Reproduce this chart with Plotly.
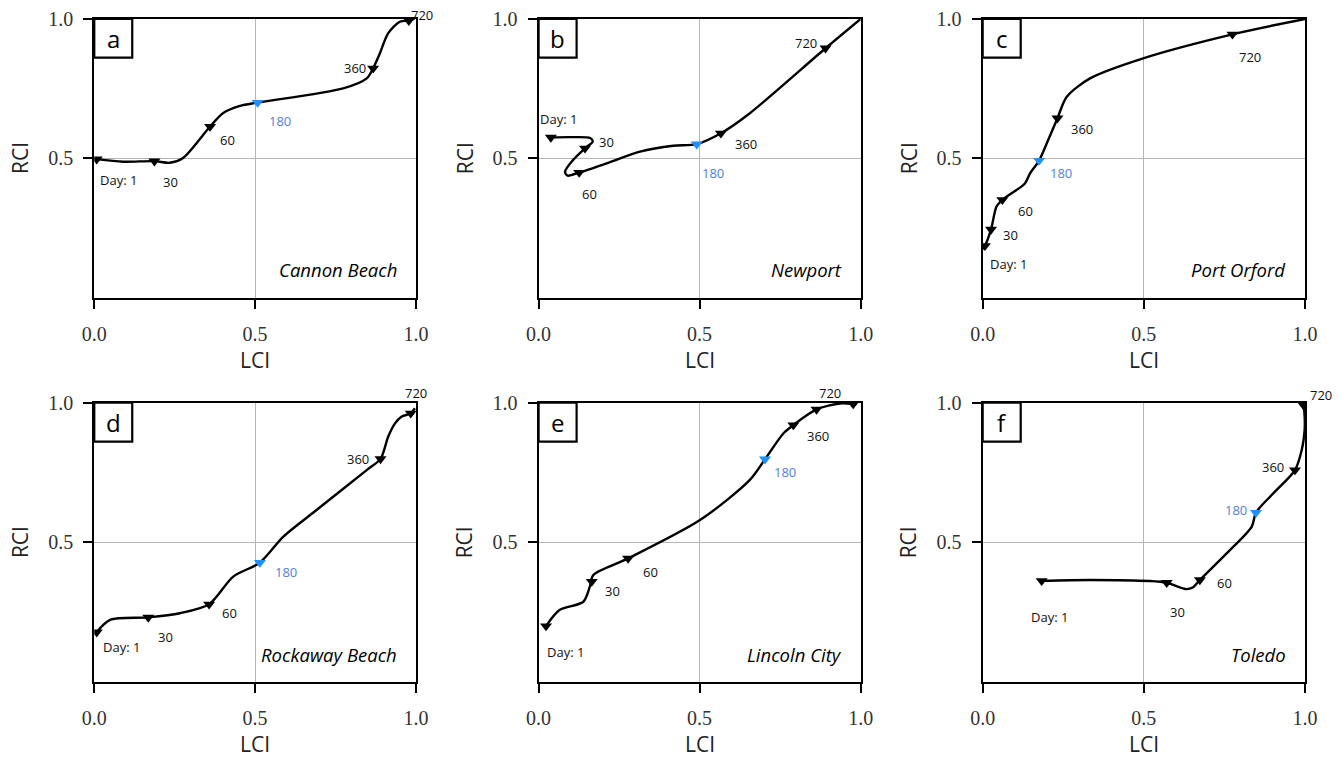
import plotly.graph_objects as go

# ---------------- data ----------------
panel_letters = ["a", "b", "c", "d", "e", "f"]
site_names = ["Cannon Beach", "Newport", "Port Orford", "Rockaway Beach", "Lincoln City", "Toledo"]

# Trajectories (LCI, RCI)
a_path_lci = [0.0075, 0.09, 0.187, 0.235, 0.275, 0.36, 0.40, 0.453, 0.508, 0.774, 0.847, 0.867, 0.888, 0.914, 0.95, 0.978, 0.995]
a_path_rci = [0.497, 0.488, 0.49, 0.484, 0.50, 0.614, 0.662, 0.688, 0.70, 0.751, 0.787, 0.823, 0.877, 0.949, 0.99, 0.994, 1.0]
a_mark_lci = [0.0075, 0.187, 0.36, 0.508, 0.867, 0.978]
a_mark_rci = [0.497, 0.49, 0.614, 0.70, 0.823, 0.994]

b_path_lci = [0.038, 0.10, 0.160, 0.168, 0.144, 0.107, 0.082, 0.090, 0.126, 0.211, 0.315, 0.418, 0.491, 0.566, 0.656, 0.891, 1.0]
b_path_rci = [0.575, 0.576, 0.573, 0.560, 0.536, 0.494, 0.452, 0.438, 0.449, 0.482, 0.524, 0.545, 0.551, 0.590, 0.662, 0.895, 1.0]
b_mark_lci = [0.038, 0.144, 0.126, 0.491, 0.566, 0.891]
b_mark_rci = [0.575, 0.536, 0.449, 0.551, 0.590, 0.895]

c_path_lci = [0.0, 0.007, 0.026, 0.043, 0.061, 0.131, 0.147, 0.175, 0.199, 0.232, 0.261, 0.333, 0.498, 0.775, 1.0]
c_path_rci = [0.175, 0.186, 0.245, 0.327, 0.351, 0.41, 0.446, 0.492, 0.554, 0.644, 0.721, 0.787, 0.859, 0.945, 1.0]
c_mark_lci = [0.007, 0.026, 0.061, 0.175, 0.232, 0.775]
c_mark_rci = [0.186, 0.245, 0.351, 0.492, 0.644, 0.945]

d_path_lci = [0.0075, 0.049, 0.168, 0.266, 0.357, 0.432, 0.515, 0.588, 0.691, 0.847, 0.89, 0.914, 0.935, 0.955, 0.984, 0.997]
d_path_rci = [0.179, 0.223, 0.232, 0.247, 0.279, 0.378, 0.428, 0.521, 0.616, 0.759, 0.799, 0.879, 0.926, 0.95, 0.962, 0.98]
d_mark_lci = [0.0075, 0.168, 0.357, 0.515, 0.89, 0.984]
d_mark_rci = [0.179, 0.232, 0.279, 0.428, 0.799, 0.962]

e_path_lci = [0.023, 0.066, 0.139, 0.159, 0.17, 0.278, 0.501, 0.656, 0.703, 0.76, 0.791, 0.863, 0.936, 0.977]
e_path_rci = [0.201, 0.259, 0.288, 0.342, 0.384, 0.443, 0.58, 0.724, 0.798, 0.89, 0.92, 0.976, 0.997, 0.995]
e_mark_lci = [0.023, 0.165, 0.278, 0.703, 0.791, 0.863, 0.977]
e_mark_rci = [0.201, 0.36, 0.443, 0.798, 0.92, 0.976, 0.995]

f_path_lci = [0.183, 0.333, 0.519, 0.571, 0.633, 0.653, 0.674, 0.757, 0.835, 0.848, 0.902, 0.969, 0.99, 0.999, 0.998, 0.995]
f_path_rci = [0.363, 0.366, 0.362, 0.356, 0.333, 0.34, 0.366, 0.461, 0.557, 0.607, 0.676, 0.759, 0.831, 0.902, 0.968, 0.992]
f_mark_lci = [0.183, 0.571, 0.674, 0.848, 0.969, 0.995]
f_mark_rci = [0.363, 0.356, 0.366, 0.607, 0.759, 0.992]

day_labels = ["Day: 1", "30", "60", "180", "360", "720"]
e_day_labels = ["Day: 1", "30", "60", "180", "360", "720", ""]

x_tick_vals = [0.0, 0.5, 1.0]
x_tick_text = ["0.0", "0.5", "1.0"]
y_tick_vals = [0.5, 1.0]
y_tick_text = ["0.5", "1.0"]

paths = [(a_path_lci, a_path_rci), (b_path_lci, b_path_rci), (c_path_lci, c_path_rci),
         (d_path_lci, d_path_rci), (e_path_lci, e_path_rci), (f_path_lci, f_path_rci)]
marks = [(a_mark_lci, a_mark_rci, day_labels), (b_mark_lci, b_mark_rci, day_labels),
         (c_mark_lci, c_mark_rci, day_labels), (d_mark_lci, d_mark_rci, day_labels),
         (e_mark_lci, e_mark_rci, e_day_labels), (f_mark_lci, f_mark_rci, day_labels)]

# ---------------- style / layout ----------------
label_offsets = [  # pixel offsets (dx right, dy down) of each day label from its marker
    [(21.6, 20.7), (15.7, 21.3), (17.7, 13.3), (22.3, 18), (-18.3, 0), (12.7, -6)],
    [(8, -18.3), (21.7, -6.7), (10.7, 21.3), (16.7, 28.7), (24.7, 11), (-19.7, -5.7)],
    [(24, 18.3), (19.7, 5.7), (22.7, 11), (22, 12), (24.4, 11), (17.7, 23)],
    [(25, 14.4), (16.7, 19.4), (20.7, 9), (25.7, 9.6), (-23, 0), (5.7, -20.3)],
    [(19, 25.7), (20.6, 9.3), (22.7, 14), (20, 12.4), (25, 11), (13, -16), (0, 0)],
    [(8.3, 36.6), (10.6, 29.6), (25, 3.3), (-20, -2.7), (-21.7, -3.3), (17.7, -10)],
]
# page has an 8px body margin -> domains shifted to compensate
col_domains = [[0.0642, 0.3035], [0.3948, 0.6344], [0.7252, 0.9650]]
row_domains = [[0.6173, 0.9855], [0.1093, 0.4786]]

BLUE_MARK = "#1e90ff"
BLUE_TEXT = "#4f7fdc"
SANS = "Open Sans, Noto Sans, sans-serif"
SERIF = "Liberation Serif, DejaVu Serif, serif"

fig = go.Figure()
annotations = []
shapes = []
layout_axes = {}

for i in range(6):
    r, c = divmod(i, 3)
    sfx = "" if i == 0 else str(i + 1)
    xa, ya = "x" + sfx, "y" + sfx
    px_, py_ = paths[i]
    mx, my, labs = marks[i]

    fig.add_trace(go.Scatter(
        x=px_, y=py_, xaxis=xa, yaxis=ya, mode="lines",
        line=dict(color="black", width=2.4, shape="spline", smoothing=0.8),
        showlegend=False, hoverinfo="skip"))
    colors = [BLUE_MARK if l == "180" else "black" for l in labs]
    fig.add_trace(go.Scatter(
        x=mx, y=my, xaxis=xa, yaxis=ya, mode="markers",
        marker=dict(symbol="triangle-down", size=10.5, color=colors, line=dict(width=0)),
        showlegend=False, hoverinfo="skip"))

    for (lx, ly, lab, (dx, dy)) in zip(mx, my, labs, label_offsets[i]):
        if not lab:
            continue
        annotations.append(dict(
            x=lx, y=ly, xref=xa, yref=ya, text=lab, showarrow=False,
            xshift=dx, yshift=-dy, xanchor="center", yanchor="middle", borderpad=0,
            font=dict(family=SANS, size=13, color=BLUE_TEXT if lab == "180" else "#111111")))

    # site name
    annotations.append(dict(
        x=0.948, y=0.1, xref=xa + " domain", yref=ya + " domain", text="<i>" + site_names[i] + "</i>",
        showarrow=False, xanchor="right", yanchor="middle",
        font=dict(family=SANS, size=18.5, color="black")))
    # axis titles
    annotations.append(dict(
        x=0.5, y=-0.222, xref=xa + " domain", yref=ya + " domain", text="LCI",
        showarrow=False, xanchor="center", yanchor="middle",
        font=dict(family=SANS, size=21, color="#222222")))
    annotations.append(dict(
        x=-0.229, y=0.5, xref=xa + " domain", yref=ya + " domain", text="RCI", textangle=-90,
        showarrow=False, xanchor="center", yanchor="middle", borderpad=0,
        font=dict(family=SANS, size=21, color="#222222")))
    # panel letter box
    shapes.append(dict(
        type="rect", xref=xa + " domain", yref=ya + " domain",
        x0=0.0, x1=0.118, y0=0.861, y1=1.0,
        line=dict(color="black", width=2.2), fillcolor="white", layer="above"))
    annotations.append(dict(
        x=0.059, y=0.93, xref=xa + " domain", yref=ya + " domain", text=panel_letters[i],
        showarrow=False, xanchor="center", yanchor="middle",
        font=dict(family=SANS, size=24, color="black")))

    axis_common = dict(
        range=[0, 1], showline=True, mirror=True, linecolor="black", linewidth=2.2,
        showgrid=True, gridcolor="#b5b5b5", gridwidth=1, zeroline=False,
        ticks="outside", ticklen=9, tickwidth=2, tickcolor="black", automargin=False,
        ticklabeloverflow="allow",
        tickfont=dict(family=SERIF, size=20, color="#333333"), fixedrange=True)
    layout_axes["xaxis" + sfx] = dict(
        axis_common, domain=col_domains[c], anchor=ya,
        tickvals=x_tick_vals, ticktext=x_tick_text, ticklabelstandoff=8)
    layout_axes["yaxis" + sfx] = dict(
        axis_common, domain=row_domains[r], anchor=xa,
        tickvals=y_tick_vals, ticktext=y_tick_text, ticklabelstandoff=6)

fig.update_layout(
    width=1344, height=757, autosize=False,
    margin=dict(l=0, r=0, t=0, b=0, pad=0, autoexpand=False),
    paper_bgcolor="white", plot_bgcolor="white",
    annotations=annotations, shapes=shapes, **layout_axes)

fig.write_html("out.html")
